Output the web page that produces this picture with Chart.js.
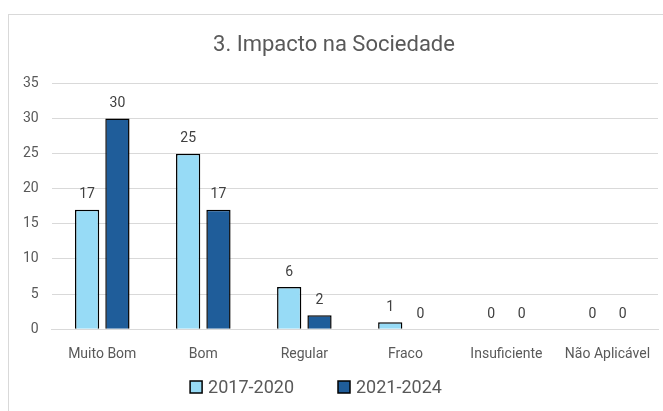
<!DOCTYPE html>
<html>
<head>
<meta charset="utf-8">
<script src="https://cdn.jsdelivr.net/npm/chart.js@4.4.1/dist/chart.umd.min.js"></script>
<style>
  html, body { margin:0; padding:0; background:#fff; }
  #wrap { position:relative; width:663px; height:411px; overflow:hidden; }
  #frame { position:absolute; left:8px; top:14px; width:670px; height:420px; border:1px solid #d9d9d9; box-sizing:border-box; }
  #chart { position:absolute; left:0; top:0; }
</style>
</head>
<body>
<div id="wrap">
  <div id="frame"></div>
  <canvas id="chart" width="663" height="411"></canvas>
</div>
<script>
// data
const categories = ['Muito Bom', 'Bom', 'Regular', 'Fraco', 'Insuficiente', 'Não Aplicável'];
const series1 = [17, 25, 6, 1, 0, 0];   // 2017-2020
const series2 = [30, 17, 2, 0, 0, 0];   // 2021-2024
const seriesNames = ['2017-2020', '2021-2024'];
const yTicks = [0, 5, 10, 15, 20, 25, 30, 35];

const FONT = 'Roboto, "Noto Sans", sans-serif';
const GREY = '#595959';

// value labels above each bar
const valueLabels = {
  id: 'valueLabels',
  afterDatasetsDraw(chart) {
    const ctx = chart.ctx;
    ctx.save();
    ctx.font = '14px ' + FONT;
    ctx.fillStyle = '#404040';
    ctx.textAlign = 'center';
    ctx.textBaseline = 'bottom';
    chart.data.datasets.forEach((ds, i) => {
      chart.getDatasetMeta(i).data.forEach((bar, j) => {
        ctx.fillText(String(ds.data[j]), bar.x, bar.y - 8);
      });
    });
    ctx.restore();
  }
};

// legend drawn under the axis, like the excel one (wide gap between items)
const bottomLegend = {
  id: 'bottomLegend',
  afterDraw(chart) {
    const ctx = chart.ctx;
    const box = 12, gapText = 6, gapItem = 44, cy = 387, cx = 316;
    ctx.save();
    ctx.font = '18px ' + FONT;
    ctx.textBaseline = 'middle';
    const items = chart.data.datasets.map(ds => ({ ds, w: ctx.measureText(ds.label).width }));
    let total = items.reduce((s, it) => s + box + gapText + it.w, 0) + gapItem * (items.length - 1);
    let x = cx - total / 2;
    items.forEach(it => {
      ctx.fillStyle = it.ds.backgroundColor;
      ctx.fillRect(x, cy - box / 2, box, box);
      ctx.strokeStyle = '#000';
      ctx.lineWidth = 1.5;
      ctx.strokeRect(x, cy - box / 2, box, box);
      ctx.fillStyle = GREY;
      ctx.fillText(it.ds.label, x + box + gapText, cy + 1);
      x += box + gapText + it.w + gapItem;
    });
    ctx.restore();
  }
};

new Chart(document.getElementById('chart'), {
  type: 'bar',
  data: {
    labels: categories,
    datasets: [
      { label: seriesNames[0], data: series1, backgroundColor: '#97dbf6', borderColor: '#000', borderWidth: 1.5, borderSkipped: 'bottom' },
      { label: seriesNames[1], data: series2, backgroundColor: '#1f5d9a', borderColor: '#000', borderWidth: 1.5, borderSkipped: 'bottom' }
    ]
  },
  options: {
    responsive: false,
    animation: false,
    devicePixelRatio: 1,
    layout: { padding: { left: 10, right: 5, top: 0, bottom: 39 } },
    datasets: { bar: { categoryPercentage: 0.6, barPercentage: 0.8 } },
    plugins: {
      title: {
        display: true, text: '3. Impacto na Sociedade', color: GREY,
        font: { family: FONT, size: 22, weight: 'normal' },
        padding: { top: 32, bottom: 25 }
      },
      legend: { display: false },
      tooltip: { enabled: false }
    },
    scales: {
      x: {
        grid: { display: false },
        border: { color: '#d9d9d9', width: 1 },
        ticks: { color: GREY, font: { family: FONT, size: 14 }, maxRotation: 0, padding: 9 }
      },
      y: {
        min: 0, max: 35,
        afterBuildTicks(axis) { axis.ticks = yTicks.map(v => ({ value: v })); },
        grid: { color: '#d9d9d9', drawTicks: false },
        border: { display: false },
        ticks: { color: GREY, font: { family: FONT, size: 14 }, padding: 13 }
      }
    }
  },
  plugins: [valueLabels, bottomLegend]
});
</script>
</body>
</html>
